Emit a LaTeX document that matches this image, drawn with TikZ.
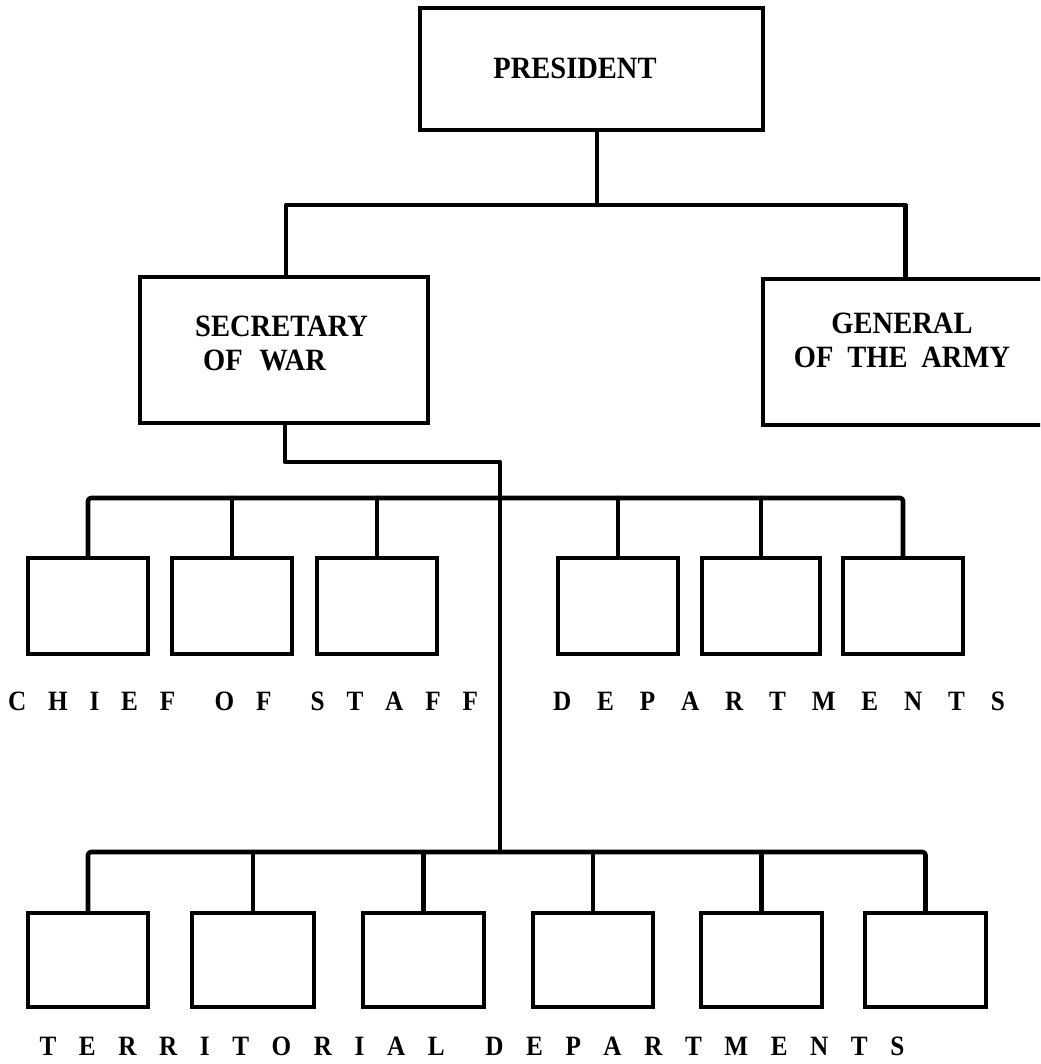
\documentclass[tikz,border=0pt]{standalone}
\usepackage{fontspec}
\usepackage{graphicx}
\setmainfont{Liberation Serif}
\newcommand{\lgap}{\hfill}
\newcommand{\wgap}{\hspace{0pt plus 1.8fill}}
\newcommand{\narrow}[1]{\scalebox{0.92}[1]{#1}}
\newcommand{\lnarrow}[1]{\scalebox{0.9}[1]{#1}}
\begin{document}
\begin{tikzpicture}[x=1pt,y=-1pt,
  box/.style={draw=black, line width=3.2pt, fill=white, inner sep=0pt},
  conn/.style={draw=black, line width=4.6pt, line join=round, line cap=round},
  boxtext/.style={font=\fontsize{31}{34}\selectfont\bfseries, inner sep=0pt},
  lab/.style={font=\fontsize{28}{30}\selectfont\bfseries, inner sep=0pt}]
\clip (0,0) rectangle (1040,1064);
\fill[white] (0,0) rectangle (1040,1064);

% top level
\node[box, minimum width=343pt, minimum height=122pt] (pres) at (591.5,69) {};
\node[boxtext] (prest) at (575,68) {\narrow{PRESIDENT}};
\node[box, minimum width=288pt, minimum height=146pt] (sow) at (284,350) {};
\node[boxtext, align=left, anchor=north west] (sowt) at (195,316) {\narrow{SECRETARY}\\\hspace{8pt}\narrow{OF\hspace{18pt}WAR}};
\node[box, minimum width=285pt, minimum height=146pt] (ga) at (905.5,352) {};
\node[boxtext, align=center, anchor=north] (gat) at (902,313) {\narrow{GENERAL}\\\narrow{OF\hspace{15pt}THE\hspace{15pt}ARMY}};

% row 2 boxes
\foreach \n/\x/\w in {c1/88/120, c2/232/120, c3/377/120, d1/618/120, d2/761/118, d3/903/120}
  \node[box, minimum width=\w pt, minimum height=96pt] (\n) at (\x,606) {};

% row 3 boxes
\foreach \n/\x/\w in {t1/88/120, t2/253/122, t3/423.5/121, t4/593/120, t5/761.5/121, t6/925.5/121}
  \node[box, minimum width=\w pt, minimum height=94pt] (\n) at (\x,960) {};

% junction coordinates
\coordinate (bar1) at (597,205);
\coordinate (sj) at (500,462);
\coordinate (bar2) at (500,498);
\coordinate (bar3) at (500,852);

% connectors
\draw[conn] ([xshift=5.5pt]pres.south) -- ([xshift=5.5pt]pres.south |- bar1);
\draw[conn] ([xshift=2pt]sow.north) |- (bar1) -| (ga.north);
\draw[conn] ([xshift=1pt]sow.south) |- (sj) -- (bar3);

\draw[conn, rounded corners=3pt] (c1.north) |- (bar2) -| (d3.north);
\foreach \n in {c2,c3,d1,d2}
  \draw[conn] (\n.north) -- (\n.north |- bar2);

\draw[conn, rounded corners=3pt] (t1.north) |- (bar3) -| (t6.north);
\foreach \n in {t2,t3,t4,t5}
  \draw[conn] (\n.north) -- (\n.north |- bar3);

% labels
\node[lab] (lab1) at (243,701) {\lnarrow{\makebox[522pt][s]{C\lgap H\lgap I\lgap E\lgap F\wgap O\lgap F\wgap S\lgap T\lgap A\lgap F\lgap F}}};
\node[lab] (lab2) at (779,701) {\lnarrow{\makebox[502pt][s]{D\lgap E\lgap P\lgap A\lgap R\lgap T\lgap M\lgap E\lgap N\lgap T\lgap S}}};
\node[lab] (lab3) at (472,1046) {\lnarrow{\makebox[961pt][s]{T\lgap E\lgap R\lgap R\lgap I\lgap T\lgap O\lgap R\lgap I\lgap A\lgap L\wgap D\lgap E\lgap P\lgap A\lgap R\lgap T\lgap M\lgap E\lgap N\lgap T\lgap S}}};
\end{tikzpicture}
\end{document}
